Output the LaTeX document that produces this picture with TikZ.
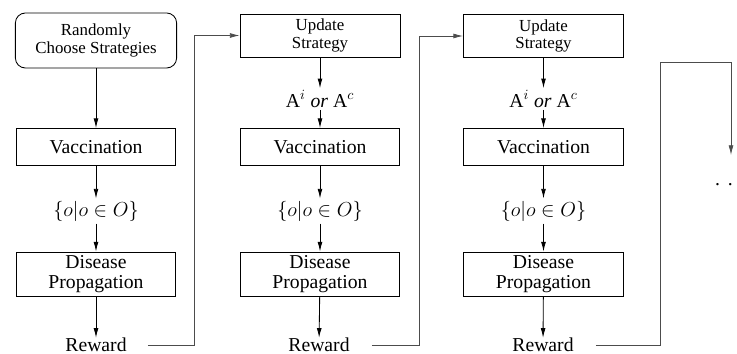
\documentclass[tikz,border=0pt]{standalone}
\usepackage{fontspec}
\setmainfont{LiberationSerif}[Extension=.ttf, UprightFont=*-Regular, ItalicFont=*-Italic, BoldFont=*-Bold]
\usetikzlibrary{arrows.meta, calc}

\begin{document}
\begin{tikzpicture}[x=0.025cm, y=-0.025cm,
    box/.style={draw, line width=0.6pt, minimum width=3.98cm, align=center, inner sep=2pt, font=\fontsize{14}{14}\selectfont},
    smallbox/.style={box, minimum width=4.0cm, font=\fontsize{12}{12.5}\selectfont},
    lbl/.style={inner sep=1.5pt, font=\fontsize{14}{16}\selectfont},
    arr/.style={-{Latex[length=2.4mm, width=1.2mm]}, line width=0.6pt},
    fb/.style={arr, gray!60!black, line width=0.5pt}]
    \useasboundingbox (0,0) rectangle (737,354);

    % === Premier tour ===
    \node[smallbox, rounded corners=2.5mm, minimum width=4.03cm, minimum height=1.375cm] (s1) at (96,40.5) {Randomly\\Choose Strategies};
    \node[box, minimum height=0.925cm] (v1) at (96,147) {Vaccination};
    \node[lbl] (o1) at (96,211) {$\{o|o\in O\}$};
    \node[box, minimum height=1.1cm] (d1) at (96,274) {Disease\\Propagation};
    \node[lbl, inner sep=0pt] (r1) at (96,345) {Reward};

    % === Deuxieme tour ===
    \node[smallbox, minimum height=1.075cm] (u2) at (320,35.5) {Update\\Strategy};
    \node[lbl] (a2) at (320,99) {$\mathrm{A}^{i}\ \mathit{or}\ \mathrm{A}^{c}$};
    \node[box, minimum height=0.925cm] (v2) at (320,147) {Vaccination};
    \node[lbl] (o2) at (320,211) {$\{o|o\in O\}$};
    \node[box, minimum height=1.1cm] (d2) at (320,274) {Disease\\Propagation};
    \node[lbl, inner sep=0pt] (r2) at (319,345) {Reward};

    % === Troisieme tour ===
    \node[smallbox, minimum height=1.075cm] (u3) at (543.5,36) {Update\\Strategy};
    \node[lbl] (a3) at (543.5,99) {$\mathrm{A}^{i}\ \mathit{or}\ \mathrm{A}^{c}$};
    \node[box, minimum height=0.925cm] (v3) at (543.5,147) {Vaccination};
    \node[lbl] (o3) at (543.5,211) {$\{o|o\in O\}$};
    \node[box, minimum height=1.1cm] (d3) at (543.5,274) {Disease\\Propagation};
    \node[lbl, inner sep=0pt] (r3) at (543,345) {Reward};

    % Suite
    \node[lbl, anchor=base] (dots) at (724,186) {.\hspace{5.5pt}.};
    \coordinate (c3) at (731,155);

    % Flèches verticales
    \draw[arr] (s1) -- (v1);
    \draw[arr] (v1) -- (o1);
    \draw[arr] (o1) -- (d1);
    \draw[arr] (d1) -- (r1);
    \draw[arr] (u2) -- (a2);
    \draw[arr] (a2) -- (v2);
    \draw[arr] (v2) -- (o2);
    \draw[arr] (o2) -- (d2);
    \draw[arr] (d2) -- (r2);
    \draw[arr] (u3) -- (a3);
    \draw[arr] (a3) -- (v3);
    \draw[arr] (v3) -- (o3);
    \draw[arr] (o3) -- (d3);
    \draw[arr] (d3) -- (r3);

    % Retours
    \draw[fb] ($(r1.east)+(21,0)$) -| ($(u2.west)+(-45,0)$) -- (u2.west);
    \draw[fb] ($(r2.east)+(22,0)$) -| ($(u3.west)+(-44,0)$) -- (u3.west);
    \draw[fb] ($(r3.east)+(22,0)$) -| (660,62) -| (c3);
\end{tikzpicture}
\end{document}
